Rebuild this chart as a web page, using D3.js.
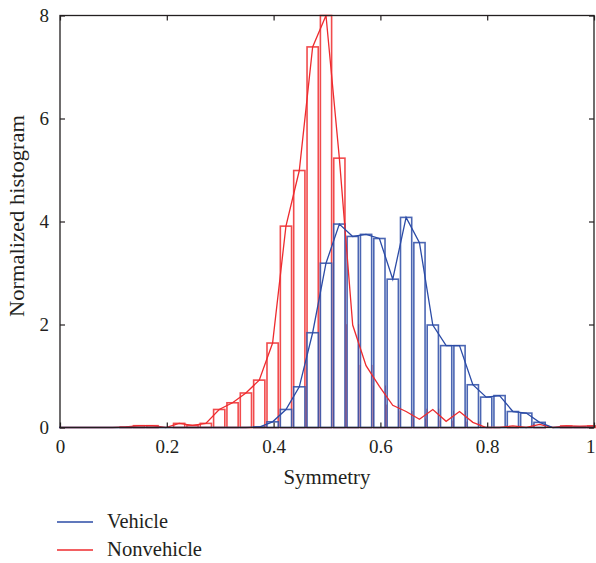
<!DOCTYPE html>
<html>
<head>
<meta charset="utf-8">
<script src="https://cdn.jsdelivr.net/npm/d3@7"></script>
<style>
  html, body { margin: 0; padding: 0; background: #fff; }
  svg { display: block; }
  text { font-family: "Liberation Serif", "Times New Roman", serif; fill: #231f20; }
</style>
</head>
<body>
<svg id="chart" width="596" height="563"></svg>
<script>
// ---- data ----
const binCenters = [0.000,0.025,0.050,0.075,0.100,0.125,0.150,0.175,0.200,0.225,
  0.250,0.275,0.300,0.325,0.350,0.375,0.400,0.425,0.450,0.475,
  0.500,0.525,0.550,0.575,0.600,0.625,0.650,0.675,0.700,0.725,
  0.750,0.775,0.800,0.825,0.850,0.875,0.900,0.925,0.950,0.975,1.000];
const nonvehicle = [0,0,0,0,0,0.01,0.035,0.035,0.0,0.08,
  0.04,0.08,0.35,0.48,0.67,0.92,1.64,3.91,4.99,7.39,
  8.0,5.23,1.99,1.2,0.8,0.43,0.31,0.16,0.35,0.12,
  0.31,0.1,0.0,0.0,0.03,0.0,0.06,0.0,0.03,0.02,0.03];
const vehicle = [0,0,0,0,0,0,0,0,0,0,
  0,0,0,0,0,0.01,0.11,0.35,0.79,1.84,
  3.19,3.95,3.71,3.75,3.67,2.88,4.08,3.59,1.99,1.59,
  1.59,0.83,0.59,0.62,0.31,0.28,0.10,0,0,0,0];
const xTicks = [0, 0.2, 0.4, 0.6, 0.8, 1];
const yTicks = [0, 2, 4, 6, 8];
const seriesNames = ["Vehicle", "Nonvehicle"];
const xTitle = "Symmetry";
const yTitle = "Normalized histogram";

// ---- layout ----
const pLeft = 60, pRight = 594, pTop = 15.5, pBottom = 427.5;
const blue = "#2b4ba6", red = "#ee2b2e";
const binW = 0.025, barFrac = 0.84;

const svg = d3.select("#chart");
const x = d3.scaleLinear().domain([0, 1]).range([pLeft, pRight]);
const y = d3.scaleLinear().domain([0, 8]).range([pBottom, pTop]);

function drawBars(vals, color, fill) {
  svg.append("g").selectAll("rect")
    .data(binCenters.map((c, i) => ({c, v: vals[i]})).filter(d => d.v > 0))
    .join("rect")
    .attr("x", d => x(d.c - binW * barFrac / 2) - 1)
    .attr("width", d => x(d.c + binW * barFrac / 2) - x(d.c - binW * barFrac / 2))
    .attr("y", d => y(d.v))
    .attr("height", d => y(0) - y(d.v))
    .attr("fill", fill)
    .attr("stroke", color)
    .attr("stroke-opacity", 0.85)
    .attr("stroke-width", 1.6);
}
function drawLine(vals, color) {
  const line = d3.line().x((d, i) => x(binCenters[i]) - 1).y(d => y(d));
  svg.append("path").datum(vals)
    .attr("d", line)
    .attr("fill", "none")
    .attr("stroke", color)
    .attr("stroke-width", 1.3);
}

drawBars(nonvehicle, red, "none");
drawBars(vehicle, blue, "#ffffff");
drawLine(nonvehicle, red);
drawLine(vehicle, blue);

// ---- axes (box with inward ticks) ----
const axisG = svg.append("g");
const ax = (g, axis) => {
  g.call(axis);
  g.select(".domain").remove();
  g.selectAll(".tick line").attr("stroke", "#231f20").attr("stroke-width", 1.2);
};
axisG.append("g").attr("transform", `translate(0,${pBottom})`)
  .call(g => ax(g, d3.axisBottom(x).tickValues(xTicks).tickSizeInner(-5).tickSizeOuter(0).tickPadding(12).tickFormat(d => d === 0 || d === 1 ? String(d) : d3.format(".1f")(d))))
  .selectAll("text").attr("font-size", 19).attr("font-family", "Liberation Serif").attr("fill", "#231f20")
  .filter(d => d === 1).attr("text-anchor", "end").attr("dx", 1);
axisG.append("g").attr("transform", `translate(0,${pTop})`)
  .call(g => ax(g, d3.axisTop(x).tickValues(xTicks).tickSizeInner(-5).tickSizeOuter(0).tickFormat("")));
axisG.append("g").attr("transform", `translate(${pLeft},0)`)
  .call(g => ax(g, d3.axisLeft(y).tickValues(yTicks).tickSizeInner(-5).tickSizeOuter(0).tickPadding(11).tickFormat(d3.format("d"))))
  .selectAll("text").attr("font-size", 19).attr("font-family", "Liberation Serif").attr("fill", "#231f20");
axisG.append("g").attr("transform", `translate(${pRight},0)`)
  .call(g => ax(g, d3.axisRight(y).tickValues(yTicks).tickSizeInner(-5).tickSizeOuter(0).tickFormat("")));

svg.append("rect")
  .attr("x", pLeft).attr("y", pTop)
  .attr("width", pRight - pLeft).attr("height", pBottom - pTop)
  .attr("fill", "none").attr("stroke", "#231f20").attr("stroke-width", 1.3);

// ---- titles ----
svg.append("text")
  .attr("x", (pLeft + pRight) / 2).attr("y", 484)
  .attr("text-anchor", "middle").attr("font-size", 20)
  .attr("textLength", 87).attr("lengthAdjust", "spacingAndGlyphs")
  .text(xTitle);
svg.append("text")
  .attr("transform", `translate(24,${216}) rotate(-90)`)
  .attr("text-anchor", "middle").attr("font-size", 20)
  .attr("textLength", 202).attr("lengthAdjust", "spacingAndGlyphs")
  .text(yTitle);

// ---- legend ----
const legend = svg.append("g");
[[seriesNames[0], blue, 522, 61], [seriesNames[1], red, 550, 95]].forEach(([name, color, yy, len]) => {
  legend.append("line").attr("x1", 57).attr("x2", 93).attr("y1", yy).attr("y2", yy)
    .attr("stroke", color).attr("stroke-width", 1.3);
  legend.append("text").attr("x", 107).attr("y", yy + 6).attr("font-size", 20)
    .attr("textLength", len).attr("lengthAdjust", "spacingAndGlyphs")
    .text(name);
});
</script>
</body>
</html>
